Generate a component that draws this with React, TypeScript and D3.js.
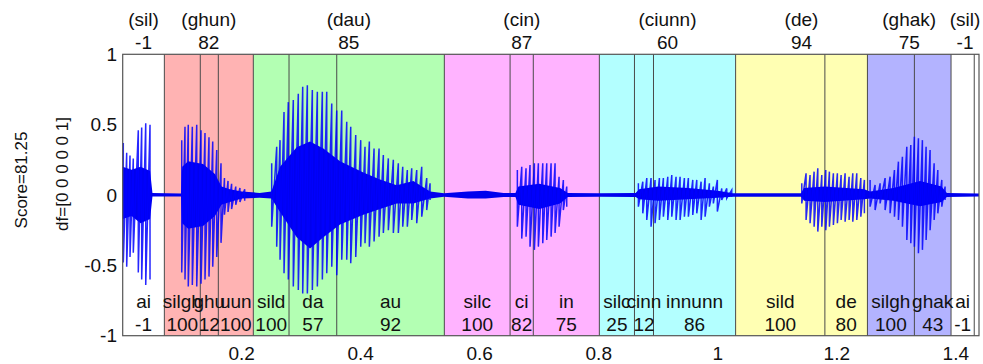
import React from "react";
import * as d3 from "d3";

const W = 983;
const H = 364;
const margin = { left: 122.7, right: 4, top: 54.3, bottom: 28.3 };

// syllable level (top labels)
const syllableNames = ["(sil)", "(ghun)", "(dau)", "(cin)", "(ciunn)", "(de)", "(ghak)", "(sil)"];
const syllableScores = [-1, 82, 85, 87, 60, 94, 75, -1];
const syllableBounds = [0, 0.07, 0.2195, 0.5405, 0.801, 1.03, 1.2515, 1.392, 1.439];
const syllableColors = ["#ffffff", "#ffb3b3", "#b3ffb3", "#ffb3ff", "#b3ffff", "#ffffb3", "#b3b3ff", "#ffffff"];

// phone level (labels inside the axes)
const phoneNames = ["ai", "silgh", "ghu", "uun", "sild", "da", "au", "silc", "ci", "in", "silc", "cinn", "innunn", "sild", "de", "silgh", "ghak", "ai", ""];
const phoneScores = ["-1", "100", "12", "100", "100", "57", "92", "100", "82", "75", "25", "12", "86", "100", "80", "100", "43", "-1", ""];
const phoneBounds = [0, 0.07, 0.1304, 0.1607, 0.2195, 0.2795, 0.3597, 0.5405, 0.651, 0.69, 0.801, 0.86, 0.892, 1.03, 1.18, 1.2515, 1.3304, 1.392, 1.431, 1.439];

const xTicks = [0.2, 0.4, 0.6, 0.8, 1, 1.2, 1.4];
const yTicks = [1, 0.5, 0, -0.5, -1];

// waveform: pitch pulses [time, top, bottom]
const pulsesAi = [
  [0.001, 0.37, -0.48], [0.0067, 0.3, -0.51], [0.0123, 0.28, -0.44], [0.0178, 0.26, -0.41],
  [0.0262, 0.46, -0.55], [0.0319, 0.48, -0.6], [0.0387, 0.51, -0.64], [0.0459, 0.5, -0.6],
];
const pulsesGhun = [
  [0.0992, 0.39, -0.55], [0.1047, 0.485, -0.6], [0.1102, 0.5, -0.65], [0.117, 0.485, -0.64],
  [0.1244, 0.5, -0.65], [0.1316, 0.46, -0.63], [0.1383, 0.44, -0.6], [0.145, 0.41, -0.58],
  [0.1513, 0.38, -0.51], [0.158, 0.32, -0.44], [0.1652, 0.225, -0.34], [0.171, 0.12, -0.14],
  [0.177, 0.1, -0.12], [0.183, 0.08, -0.1], [0.19, 0.06, -0.07], [0.197, 0.05, -0.05], [0.205, 0.04, -0.04],
];
const pulsesDau = [
  [0.2504, 0.225, -0.225], [0.2588, 0.343, -0.367], [0.2644, 0.39, -0.46], [0.2711, 0.59, -0.556],
  [0.2783, 0.66, -0.6], [0.2867, 0.675, -0.65], [0.2951, 0.72, -0.675], [0.3025, 0.77, -0.7],
  [0.3103, 0.78, -0.7], [0.3187, 0.746, -0.675], [0.3271, 0.734, -0.65], [0.3355, 0.734, -0.6],
  [0.3429, 0.734, -0.556], [0.3513, 0.65, -0.51], [0.3597, 0.6, -0.57], [0.3681, 0.6, -0.46],
  [0.3765, 0.52, -0.46], [0.3832, 0.485, -0.485], [0.3916, 0.426, -0.44], [0.4, 0.39, -0.367],
  [0.4072, 0.343, -0.343], [0.4145, 0.38, -0.367], [0.4224, 0.33, -0.33], [0.4308, 0.33, -0.296],
  [0.438, 0.284, -0.27], [0.4464, 0.26, -0.25], [0.4548, 0.25, -0.27], [0.4632, 0.225, -0.27],
  [0.4706, 0.2, -0.225], [0.4783, 0.178, -0.225], [0.4857, 0.19, -0.178], [0.4941, 0.178, -0.2],
  [0.5025, 0.2, -0.154], [0.5109, 0.12, -0.107], [0.5165, 0.083, -0.036],
];
const pulsesCin = [
  [0.6632, 0.178, -0.225], [0.6706, 0.2, -0.31], [0.6778, 0.19, -0.296], [0.6845, 0.213, -0.367],
  [0.6918, 0.225, -0.39], [0.6985, 0.225, -0.367], [0.7059, 0.225, -0.343], [0.7126, 0.225, -0.32],
  [0.7199, 0.225, -0.296], [0.7266, 0.225, -0.27], [0.7333, 0.13, -0.225], [0.7405, 0.107, -0.107],
  [0.7462, 0.06, -0.083],
];
const pulsesCiunn = [
  [0.8666, 0.083, -0.083], [0.874, 0.095, -0.13], [0.8807, 0.12, -0.178], [0.8879, 0.12, -0.225],
  [0.8946, 0.107, -0.2], [0.9019, 0.12, -0.178], [0.9086, 0.12, -0.154], [0.916, 0.13, -0.178],
  [0.9227, 0.142, -0.154], [0.9299, 0.13, -0.178], [0.9367, 0.13, -0.178], [0.9439, 0.12, -0.154],
  [0.9506, 0.12, -0.154], [0.958, 0.107, -0.142], [0.9647, 0.107, -0.13], [0.972, 0.095, -0.178],
  [0.9787, 0.12, -0.154], [0.9859, 0.083, -0.083], [0.9926, 0.06, -0.06], [0.9993, 0.107, -0.118],
  [1.0067, 0.047, -0.036], [1.0151, 0.047, -0.024], [1.0235, 0.036, -0.012],
];
const pulsesDe = [
  [1.1412, 0.083, -0.06], [1.1484, 0.154, -0.178], [1.1551, 0.142, -0.2], [1.1619, 0.166, -0.225],
  [1.1681, 0.19, -0.26], [1.1748, 0.142, -0.225], [1.1815, 0.178, -0.25], [1.1876, 0.166, -0.225],
  [1.1943, 0.154, -0.213], [1.201, 0.154, -0.2], [1.2073, 0.142, -0.178], [1.214, 0.154, -0.19],
  [1.2207, 0.13, -0.178], [1.2269, 0.154, -0.19], [1.2336, 0.154, -0.178], [1.2404, 0.12, -0.154],
  [1.2464, 0.107, -0.13],
];
const pulsesGhak = [
  [1.256, 0.107, -0.083], [1.2644, 0.071, -0.107], [1.2728, 0.083, -0.06], [1.2812, 0.12, -0.107],
  [1.2896, 0.13, -0.13], [1.2969, 0.178, -0.154], [1.3036, 0.237, -0.178], [1.3103, 0.272, -0.225],
  [1.3177, 0.343, -0.32], [1.3244, 0.355, -0.343], [1.3304, 0.414, -0.367], [1.3372, 0.403, -0.414],
  [1.3439, 0.39, -0.39], [1.3501, 0.343, -0.32], [1.3568, 0.32, -0.25], [1.3636, 0.225, -0.178],
  [1.3698, 0.178, -0.13], [1.3765, 0.107, -0.083], [1.382, 0.06, -0.036],
];
const pulseGroups = [pulsesAi, pulsesGhun, pulsesDau, pulsesCin, pulsesCiunn, pulsesDe, pulsesGhak];

// dense inner part of the waveform [time, upper, lower]
const coreEnvelope = [
  [0, 0.2, -0.17], [0.015, 0.18, -0.15], [0.03, 0.2, -0.2], [0.046, 0.17, -0.17],
  [0.05, 0.015, -0.01], [0.098, 0.01, -0.01], [0.1, 0.2, -0.2], [0.11, 0.24, -0.24],
  [0.135, 0.22, -0.22], [0.155, 0.15, -0.15], [0.166, 0.06, -0.07], [0.18, 0.04, -0.05],
  [0.2, 0.025, -0.025], [0.23, 0.015, -0.02], [0.25, 0.025, -0.025], [0.2644, 0.2, -0.12],
  [0.2924, 0.34, -0.3], [0.3148, 0.38, -0.38], [0.3372, 0.33, -0.3], [0.3652, 0.24, -0.21],
  [0.4044, 0.16, -0.14], [0.4324, 0.11, -0.1], [0.4605, 0.07, -0.06], [0.4884, 0.1, -0.06],
  [0.5165, 0.025, -0.025], [0.54, 0.012, -0.012], [0.58, 0.025, -0.025], [0.61, 0.03, -0.025],
  [0.64, 0.015, -0.015], [0.66, 0.015, -0.015], [0.665, 0.06, -0.07], [0.7, 0.08, -0.1],
  [0.735, 0.05, -0.06], [0.748, 0.015, -0.015], [0.8, 0.012, -0.012], [0.862, 0.015, -0.015],
  [0.868, 0.04, -0.03], [0.9, 0.06, -0.04], [0.95, 0.05, -0.03], [1.0, 0.03, -0.02],
  [1.025, 0.012, -0.012], [1.14, 0.012, -0.012], [1.145, 0.05, -0.04], [1.18, 0.06, -0.05],
  [1.246, 0.04, -0.03], [1.256, 0.025, -0.025], [1.295, 0.05, -0.04], [1.34, 0.1, -0.08],
  [1.376, 0.06, -0.05], [1.385, 0.015, -0.015], [1.439, 0.01, -0.01],
];

const FONT = "'Liberation Sans', Arial, sans-serif";

export default function App() {
  const x = d3.scaleLinear().domain([0, 1.439]).range([margin.left, W - margin.right]);
  const y = d3.scaleLinear().domain([-1, 1]).range([H - margin.bottom, margin.top]);

  const area = d3
    .area<number[]>()
    .x((d) => x(d[0]))
    .y0((d) => y(d[2]))
    .y1((d) => y(d[1]));

  const line = d3
    .line<number[]>()
    .x((d) => x(d[0]))
    .y((d) => y(d[1]));

  const pulsePath = (pulses: number[][]) =>
    line(pulses.flatMap((p) => [[p[0], p[1]], [p[0], p[2]]]));

  const phones = phoneNames.map((name, i) => ({
    name,
    score: phoneScores[i],
    cx: (x(phoneBounds[i]) + x(phoneBounds[i + 1])) / 2,
  }));

  return (
    <svg
      width={W}
      height={H}
      style={{ position: "absolute", left: 0, top: 0, background: "#fff" }}
      fontFamily={FONT}
    >
      {/* coloured syllable backgrounds */}
      {syllableNames.map((n, i) => (
        <rect
          key={"bg" + i}
          x={x(syllableBounds[i])}
          y={y(1)}
          width={x(syllableBounds[i + 1]) - x(syllableBounds[i])}
          height={y(-1) - y(1)}
          fill={syllableColors[i]}
        />
      ))}
      {/* phone boundaries */}
      {phoneBounds.slice(1, -1).map((b, i) => (
        <line key={"pb" + i} x1={x(b)} x2={x(b)} y1={y(1)} y2={y(-1)} stroke="#4a4a4a" strokeWidth={1} />
      ))}

      {/* phone labels */}
      {phones.map((p, i) => (
        <g key={"ph" + i} fontSize={19} textAnchor="middle" fill="#111">
          <text x={p.cx} y={308}>{p.name}</text>
          <text x={p.cx} y={331}>{p.score}</text>
        </g>
      ))}

      {/* waveform */}
      <path d={area(coreEnvelope) || ""} fill="#0000ee" />
      {pulseGroups.map((g, i) => (
        <path key={"pw" + i} d={pulsePath(g) || ""} fill="none" stroke="#0000ff" strokeWidth={1.5} strokeOpacity={0.85} />
      ))}

      {/* axes box */}
      <rect
        x={x(0)}
        y={y(1)}
        width={x(1.439) - x(0)}
        height={y(-1) - y(1)}
        fill="none"
        stroke="#555"
        strokeWidth={1.2}
      />

      {/* syllable labels on top */}
      {syllableNames.map((n, i) => {
        const cx = (x(syllableBounds[i]) + x(syllableBounds[i + 1])) / 2;
        return (
          <g key={"sy" + i} fontSize={19} textAnchor="middle" fill="#111">
            <text x={cx} y={26}>{n}</text>
            <text x={cx} y={49}>{syllableScores[i]}</text>
          </g>
        );
      })}

      {/* y ticks */}
      {yTicks.map((t) => (
        <text key={"yt" + t} x={117} y={y(t)} dy="0.35em" textAnchor="end" fontSize={19} fill="#111">
          {t}
        </text>
      ))}
      {/* x ticks */}
      {xTicks.map((t) => (
        <text key={"xt" + t} x={x(t)} y={360} textAnchor="middle" fontSize={19} fill="#111">
          {t}
        </text>
      ))}

      {/* y labels */}
      <text transform="translate(27,180) rotate(-90)" textAnchor="middle" fontSize={17} fill="#111">
        Score=81.25
      </text>
      <text transform="translate(68,174) rotate(-90)" textAnchor="middle" fontSize={17} fill="#111">
        df=[0 0 0 0 0 1]
      </text>
    </svg>
  );
}
